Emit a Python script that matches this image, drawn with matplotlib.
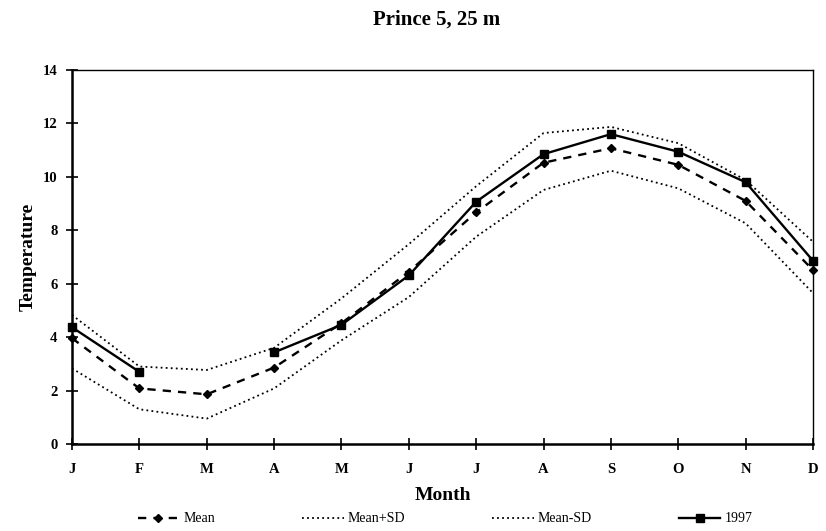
import numpy as np
import matplotlib
matplotlib.use("Agg")
import matplotlib.pyplot as plt

months = ["J", "F", "M", "A", "M", "J", "J", "A", "S", "O", "N", "D"]

# monthly temperature at 25 m
mean = [3.96, 2.08, 1.86, 2.86, 4.52, 6.45, 8.67, 10.53, 11.07, 10.45, 9.10, 6.51]
mean_plus_sd = [4.83, 2.90, 2.77, 3.60, 5.45, 7.48, 9.65, 11.64, 11.87, 11.26, 9.88, 7.57]
mean_minus_sd = [2.83, 1.30, 0.95, 2.08, 3.88, 5.50, 7.76, 9.51, 10.23, 9.57, 8.26, 5.65]
y1997 = [4.37, 2.70, np.nan, 3.43, 4.46, 6.31, 9.07, 10.85, 11.60, 10.94, 9.80, 6.86]

serif = "Liberation Serif"

fig = plt.figure(figsize=(8.26, 5.31), dpi=100)
ax = fig.add_axes([72/826, 1-444/531, (813-72)/826, (444-70)/531])

x = np.arange(len(months))
ax.plot(x, mean, color="black", ls=(0, (3.5, 3)), lw=1.7, marker="D", ms=4.5,
        label="Mean", clip_on=False, zorder=3)
ax.plot(x, mean_plus_sd, color="black", ls=(0, (1, 1.8)), lw=1.3,
        label="Mean+SD", clip_on=False)
ax.plot(x, mean_minus_sd, color="black", ls=(0, (1, 1.8)), lw=1.3,
        label="Mean-SD", clip_on=False)
ax.plot(x, y1997, color="black", ls="-", lw=1.7, marker="s", ms=6,
        label="1997", clip_on=False, zorder=4)

ax.set_xlim(0, 11)
ax.set_ylim(0, 14)
ax.set_xticks(x)
ax.set_xticklabels(months)
ax.set_yticks(np.arange(0, 15, 2))

for lab in ax.get_xticklabels() + ax.get_yticklabels():
    lab.set_fontfamily(serif)
    lab.set_fontweight("bold")
    lab.set_fontsize(10.5)

ax.tick_params(axis="both", direction="inout", length=9, width=1.2, pad=6)
ax.tick_params(axis="x", pad=9)

for side in ["left", "bottom"]:
    ax.spines[side].set_linewidth(1.8)
for side in ["top", "right"]:
    ax.spines[side].set_linewidth(1.0)

ax.set_xlabel("Month", fontfamily=serif, fontweight="bold", fontsize=14, labelpad=8)
ax.set_ylabel("Temperature", fontfamily=serif, fontweight="bold", fontsize=14, labelpad=4)

fig.text(0.528, 1-20/531, "Prince 5, 25 m", ha="center", va="center",
         fontfamily=serif, fontweight="bold", fontsize=15)

leg = fig.legend(loc="center", bbox_to_anchor=(125/826, 1-519/531, (765-125)/826, 0),
                 ncol=4, mode="expand", frameon=False, handlelength=3.0,
                 handletextpad=0.3, prop={"family": serif, "size": 10})

fig.savefig("out.png", dpi=100)
